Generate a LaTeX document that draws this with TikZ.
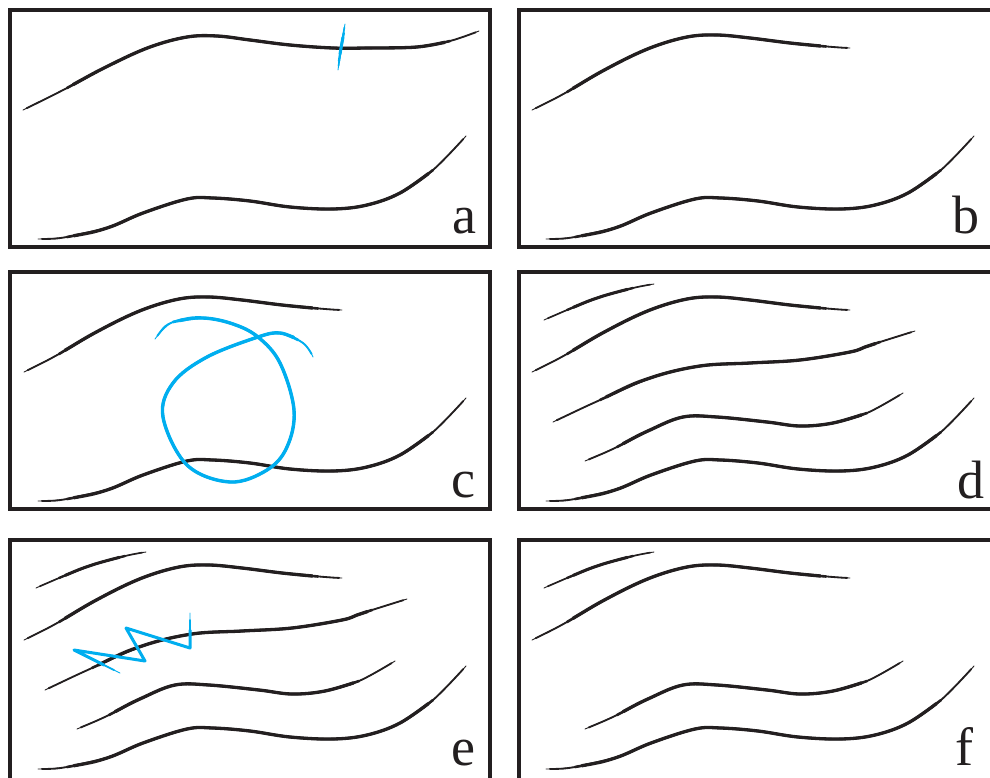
\documentclass[tikz,border=0pt]{standalone}
\usepackage{fontspec}
\setmainfont{Liberation Serif}
\newfontfamily\labelfont{Liberation Serif}
\definecolor{ink}{HTML}{231F20}
\definecolor{sky}{HTML}{00AEEF}
% tapered stroke: #2 width, #3 full point list, #4 inner point list
\newcommand{\taperdraw}[4][]{%
  \draw[#1, line width=0.9pt, line cap=round, line join=round] plot[smooth,tension=0.6] coordinates {#3};
  \draw[#1, line width=0.55*#2, line cap=round, line join=round, shorten <=4pt, shorten >=4pt] plot[smooth,tension=0.6] coordinates {#3};
  \draw[#1, line width=0.78*#2, line cap=round, line join=round] plot[smooth,tension=0.6] coordinates {#4};
  \draw[#1, line width=#2, line cap=round, line join=round, shorten <=7pt, shorten >=7pt] plot[smooth,tension=0.6] coordinates {#4};
}
\newcommand{\Ctopfull}[1]{\taperdraw[#1]{3.3pt}{(23,110) (67,88) (110,65) (150,47) (187,37) (217,36) (250,40) (290,45) (333,48) (367,48) (417,47) (450,41) (479,31)}{(67,88) (110,65) (150,47) (187,37) (217,36) (250,40) (290,45) (333,48) (367,48) (417,47) (450,41)}}
\newcommand{\Ctopshort}[1]{\taperdraw[#1]{3.3pt}{(24,110) (59,92) (102,67) (142,48) (179,37) (209,35) (242,38) (282,43) (325,47) (342,48)}{(59,92) (102,67) (142,48) (179,37) (209,35) (242,38) (282,43) (318,46.5)}}
\newcommand{\Cbottom}[1]{\taperdraw[#1]{3.3pt}{(38,239) (67,237) (107,228) (143,213) (187,199) (213,198) (250,201) (290,207) (333,209) (367,205) (400,193) (433,170) (466,136)}{(67,237) (107,228) (143,213) (187,199) (213,198) (250,201) (290,207) (333,209) (367,205) (400,193) (433,170)}}
\newcommand{\Cshort}[1]{\taperdraw[#1]{3pt}{(36,58) (59,48) (92,35) (125,26) (146,22)}{(59,48) (92,35) (125,26)}}
\newcommand{\Cmiddle}[1]{\taperdraw[#1]{3.3pt}{(45,160) (92,138) (142,116) (192,104) (242,101) (292,98) (342,90) (357,85) (372,80) (407,69)}{(92,138) (142,116) (192,104) (242,101) (292,98) (342,90) (357,85) (372,80)}}
\newcommand{\Cfourth}[1]{\taperdraw[#1]{3.3pt}{(77,199) (109,185) (142,168) (175,155) (209,155) (259,160) (292,164) (325,161) (359,151) (395,131)}{(109,185) (142,168) (175,155) (209,155) (259,160) (292,164) (325,161) (359,151)}}
\begin{document}
\begin{tikzpicture}[x=1pt, y=-1pt,
  frame/.style={draw=ink, line width=4pt},
  bluestroke/.style={draw=sky, line cap=round, line join=round},
  lbl/.style={font=\labelfont\fontsize{54pt}{54pt}\selectfont, text=ink, anchor=base, inner sep=0pt}]
\path[use as bounding box] (0,0) rectangle (990,777);
\clip (0,0) rectangle (990,777);
\fill[white] (0,0) rectangle (990,777);
% frames
\draw[frame] (10,10) rectangle (490,247);
\draw[frame] (518.5,10) rectangle (1000,247);
\draw[frame] (10,272) rectangle (490,509);
\draw[frame] (518.5,272) rectangle (1000,509);
\draw[frame] (10,540) rectangle (490,790);
\draw[frame] (518.5,540) rectangle (1000,790);
% panel a
\Ctopfull{ink}
\Cbottom{ink}
\taperdraw[sky]{3pt}{(338,70) (341.2,47) (345,24)}{(339,61) (341.2,47) (343.8,33)}
\node[lbl] (la) at (464,233) {a};
% panel b
\begin{scope}[shift={(508,0)}]
\Ctopshort{ink}
\Cbottom{ink}
\end{scope}
\node[lbl] (lb) at (966,233) {b};
% panel c
\begin{scope}[shift={(0,262)}]
\Ctopshort{ink}
\Cbottom{ink}
\end{scope}
\taperdraw[sky]{3.4pt}{(155,339) (173,322) (203,318) (233,324) (258,337) (280,363) (294,410) (287,447) (267,470) (230,482) (187,465) (163,417) (173,383) (207,357) (258,337) (280,333) (303,343) (313,357)}{(173,322) (203,318) (233,324) (258,337) (280,363) (294,410) (287,447) (267,470) (230,482) (187,465) (163,417) (173,383) (207,357) (258,337) (280,333) (298,340)}
\node[lbl] (lc) at (463,497) {c};
% panel d
\begin{scope}[shift={(508,262)}]
\Cshort{ink}
\Ctopshort{ink}
\Cmiddle{ink}
\Cfourth{ink}
\Cbottom{ink}
\end{scope}
\node[lbl] (ld) at (971,498) {d};
% panel e
\begin{scope}[shift={(0,530)}]
\Cshort{ink}
\Ctopshort{ink}
\Cmiddle{ink}
\Cfourth{ink}
\Cbottom{ink}
\end{scope}
\draw[bluestroke, line width=0.9pt] (120,673) -- (74,650) -- (145,661) -- (126,628) -- (190,648) -- (190,613);
\draw[bluestroke, line width=1.8pt] (114,670) -- (74,650) -- (145,661) -- (126,628) -- (190,648) -- (190,620);
\draw[bluestroke, line width=3pt] (104,665) -- (74,650) -- (145,661) -- (126,628) -- (190,648) -- (190,630);
\node[lbl] (le) at (463,765) {e};
% panel f
\begin{scope}[shift={(508,530)}]
\Cshort{ink}
\Ctopshort{ink}
\Cfourth{ink}
\Cbottom{ink}
\end{scope}
\node[lbl] (lf) at (964,765) {f};
\end{tikzpicture}
\end{document}
